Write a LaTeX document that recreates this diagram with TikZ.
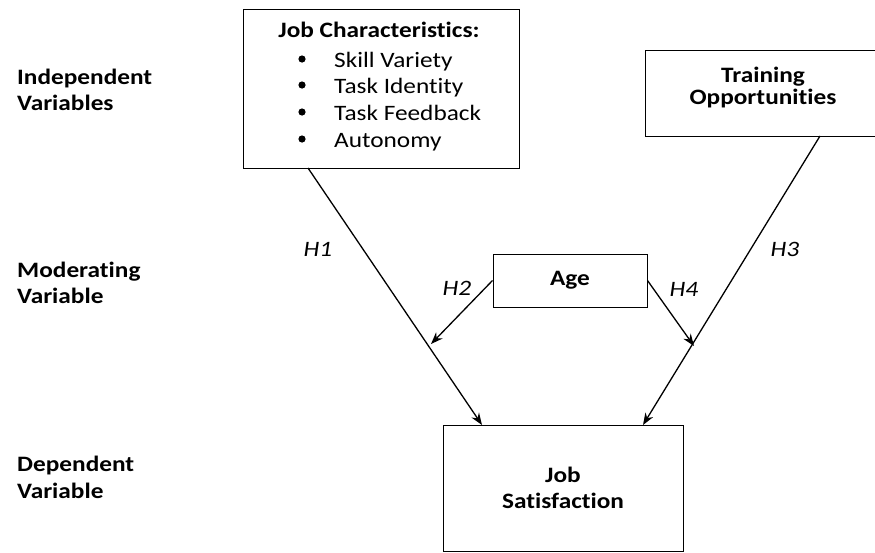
\documentclass[tikz,border=0pt]{standalone}
\usepackage{fontspec}
\setmainfont{Carlito}[FakeStretch=1.15,Ligatures=NoCommon]
\usetikzlibrary{arrows.meta}
\begin{document}
\begin{tikzpicture}[x=1pt,y=-1pt,
  box/.style={draw,line width=1pt,inner sep=0pt},
  bt/.style={font=\fontsize{22}{26}\selectfont\bfseries,inner sep=0pt},
  rt/.style={font=\fontsize{22}{26}\selectfont,inner sep=0pt,anchor=base west},
  lbl/.style={bt,anchor=base west},
  hyp/.style={font=\fontsize{22}{26}\selectfont\itshape,inner sep=0pt,anchor=base},
  arr/.style={line width=1.3pt,-{Stealth[length=12pt,width=9pt]}}]
\useasboundingbox (0,0) rectangle (875,552);
% boxes
\node[box,minimum width=276pt,minimum height=159pt] (jc) at (381,88.5) {};
\node[box,minimum width=240pt,minimum height=86pt] (tr) at (765,93) {};
\node[box,minimum width=154pt,minimum height=53pt] (age) at (570,280.5) {};
\node[box,minimum width=240pt,minimum height=126pt] (js) at (563,488) {};
% box texts
\node[bt,anchor=base] (jct) at (379,37) {Job Characteristics:};
\node[rt] (b1) at (334,67) {Skill Variety};
\node[rt] (b2) at (334,93) {Task Identity};
\node[rt] (b3) at (334,120) {Task Feedback};
\node[rt] (b4) at (334,147) {Autonomy};
\foreach \y in {67,93,120,147}{
  \fill (302,\y-8) circle (3.6pt);
}
\node[bt,anchor=base] (tr1) at (763,82) {Training};
\node[bt,anchor=base] (tr2) at (763,104) {Opportunities};
\node[bt,anchor=base] (aget) at (570,285) {Age};
\node[bt,anchor=base] (js1) at (563,482) {Job};
\node[bt,anchor=base] (js2) at (563,508) {Satisfaction};
% left labels
\node[lbl] (iv1) at (17,84) {Independent};
\node[lbl] (iv2) at (17,110) {Variables};
\node[lbl] (mv1) at (17,277) {Moderating};
\node[lbl] (mv2) at (17,303) {Variable};
\node[lbl] (dv1) at (17,471) {Dependent};
\node[lbl] (dv2) at (17,498) {Variable};
% connectors
\coordinate (h1s) at (308,168);
\coordinate (h1e) at (482,425);
\coordinate (h3s) at (820,136);
\coordinate (h3e) at (643,425);
\coordinate (h2e) at (431,344);
\coordinate (h4e) at (694,346);
\draw[arr] (h1s) -- (h1e);
\draw[arr] (h3s) -- (h3e);
\draw[arr] (age.west) -- (h2e);
\draw[arr] (age.east) -- (h4e);
\node[hyp] (h1) at (318,256) {H1};
\node[hyp] (h2) at (457,295) {H2};
\node[hyp] (h3) at (785,256) {H3};
\node[hyp] (h4) at (684,296) {H4};
\end{tikzpicture}
\end{document}
